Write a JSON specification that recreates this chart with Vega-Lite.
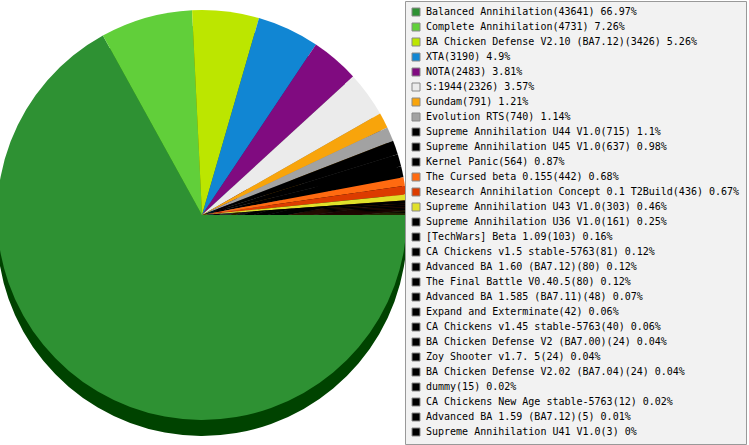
{
  "$schema": "https://vega.github.io/schema/vega-lite/v6.json",
  "width": 404,
  "height": 430,
  "autosize": {"type": "none"},
  "padding": {"left": 0, "top": 0, "right": 345, "bottom": 15},
  "background": "white",
  "config": {"view": {"stroke": null}},
  "data": {"values": [
    {"game": "Balanced Annihilation(43641) 66.97%", "players": 43641},
    {"game": "Complete Annihilation(4731) 7.26%", "players": 4731},
    {"game": "BA Chicken Defense V2.10 (BA7.12)(3426) 5.26%", "players": 3426},
    {"game": "XTA(3190) 4.9%", "players": 3190},
    {"game": "NOTA(2483) 3.81%", "players": 2483},
    {"game": "S:1944(2326) 3.57%", "players": 2326},
    {"game": "Gundam(791) 1.21%", "players": 791},
    {"game": "Evolution RTS(740) 1.14%", "players": 740},
    {"game": "Supreme Annihilation U44 V1.0(715) 1.1%", "players": 715},
    {"game": "Supreme Annihilation U45 V1.0(637) 0.98%", "players": 637},
    {"game": "Kernel Panic(564) 0.87%", "players": 564},
    {"game": "The Cursed beta 0.155(442) 0.68%", "players": 442},
    {"game": "Research Annihilation Concept 0.1 T2Build(436) 0.67%", "players": 436},
    {"game": "Supreme Annihilation U43 V1.0(303) 0.46%", "players": 303},
    {"game": "Supreme Annihilation U36 V1.0(161) 0.25%", "players": 161},
    {"game": "[TechWars] Beta 1.09(103) 0.16%", "players": 103},
    {"game": "CA Chickens v1.5 stable-5763(81) 0.12%", "players": 81},
    {"game": "Advanced BA 1.60 (BA7.12)(80) 0.12%", "players": 80},
    {"game": "The Final Battle V0.40.5(80) 0.12%", "players": 80},
    {"game": "Advanced BA 1.585 (BA7.11)(48) 0.07%", "players": 48},
    {"game": "Expand and Exterminate(42) 0.06%", "players": 42},
    {"game": "CA Chickens v1.45 stable-5763(40) 0.06%", "players": 40},
    {"game": "BA Chicken Defense V2 (BA7.00)(24) 0.04%", "players": 24},
    {"game": "Zoy Shooter v1.7. 5(24) 0.04%", "players": 24},
    {"game": "BA Chicken Defense V2.02 (BA7.04)(24) 0.04%", "players": 24},
    {"game": "dummy(15) 0.02%", "players": 15},
    {"game": "CA Chickens New Age stable-5763(12) 0.02%", "players": 12},
    {"game": "Advanced BA 1.59 (BA7.12)(5) 0.01%", "players": 5},
    {"game": "Supreme Annihilation U41 V1.0(3) 0%", "players": 3}
  ]},
  "layer": [
    {
      "mark": {"type": "arc", "radius": 205, "yOffset": 16},
      "encoding": {
        "theta": {"field": "players", "type": "quantitative", "stack": true, "scale": {"range": [1.5708, 7.854]}},
        "order": {"field": "players", "sort": "descending"},
        "color": {
          "field": "game", "type": "nominal", "legend": null,
          "scale": {
            "domain": [
              "Balanced Annihilation(43641) 66.97%",
              "Complete Annihilation(4731) 7.26%",
              "BA Chicken Defense V2.10 (BA7.12)(3426) 5.26%",
              "XTA(3190) 4.9%",
              "NOTA(2483) 3.81%",
              "S:1944(2326) 3.57%",
              "Gundam(791) 1.21%",
              "Evolution RTS(740) 1.14%",
              "Supreme Annihilation U44 V1.0(715) 1.1%",
              "Supreme Annihilation U45 V1.0(637) 0.98%",
              "Kernel Panic(564) 0.87%",
              "The Cursed beta 0.155(442) 0.68%",
              "Research Annihilation Concept 0.1 T2Build(436) 0.67%",
              "Supreme Annihilation U43 V1.0(303) 0.46%",
              "Supreme Annihilation U36 V1.0(161) 0.25%",
              "[TechWars] Beta 1.09(103) 0.16%",
              "CA Chickens v1.5 stable-5763(81) 0.12%",
              "Advanced BA 1.60 (BA7.12)(80) 0.12%",
              "The Final Battle V0.40.5(80) 0.12%",
              "Advanced BA 1.585 (BA7.11)(48) 0.07%",
              "Expand and Exterminate(42) 0.06%",
              "CA Chickens v1.45 stable-5763(40) 0.06%",
              "BA Chicken Defense V2 (BA7.00)(24) 0.04%",
              "Zoy Shooter v1.7. 5(24) 0.04%",
              "BA Chicken Defense V2.02 (BA7.04)(24) 0.04%",
              "dummy(15) 0.02%",
              "CA Chickens New Age stable-5763(12) 0.02%",
              "Advanced BA 1.59 (BA7.12)(5) 0.01%",
              "Supreme Annihilation U41 V1.0(3) 0%"
            ],
            "range": [
              "#004300", "#1f7a00", "#5a7000", "#004a80", "#3a003a", "#8a8a8a", "#8a5500", "#505050",
              "#000000", "#000000", "#000000", "#8a3000", "#701800", "#7a7a00",
              "#000000", "#000000", "#000000", "#000000", "#000000", "#000000", "#000000", "#000000",
              "#000000", "#000000", "#000000", "#000000", "#000000", "#000000", "#000000"
            ]
          }
        }
      }
    },
    {
      "mark": {"type": "arc", "radius": 205},
      "encoding": {
        "theta": {"field": "players", "type": "quantitative", "stack": true, "scale": {"range": [1.5708, 7.854]}},
        "order": {"field": "players", "sort": "descending"},
        "color": {
          "field": "game", "type": "nominal",
          "scale": {
            "domain": [
              "Balanced Annihilation(43641) 66.97%",
              "Complete Annihilation(4731) 7.26%",
              "BA Chicken Defense V2.10 (BA7.12)(3426) 5.26%",
              "XTA(3190) 4.9%",
              "NOTA(2483) 3.81%",
              "S:1944(2326) 3.57%",
              "Gundam(791) 1.21%",
              "Evolution RTS(740) 1.14%",
              "Supreme Annihilation U44 V1.0(715) 1.1%",
              "Supreme Annihilation U45 V1.0(637) 0.98%",
              "Kernel Panic(564) 0.87%",
              "The Cursed beta 0.155(442) 0.68%",
              "Research Annihilation Concept 0.1 T2Build(436) 0.67%",
              "Supreme Annihilation U43 V1.0(303) 0.46%",
              "Supreme Annihilation U36 V1.0(161) 0.25%",
              "[TechWars] Beta 1.09(103) 0.16%",
              "CA Chickens v1.5 stable-5763(81) 0.12%",
              "Advanced BA 1.60 (BA7.12)(80) 0.12%",
              "The Final Battle V0.40.5(80) 0.12%",
              "Advanced BA 1.585 (BA7.11)(48) 0.07%",
              "Expand and Exterminate(42) 0.06%",
              "CA Chickens v1.45 stable-5763(40) 0.06%",
              "BA Chicken Defense V2 (BA7.00)(24) 0.04%",
              "Zoy Shooter v1.7. 5(24) 0.04%",
              "BA Chicken Defense V2.02 (BA7.04)(24) 0.04%",
              "dummy(15) 0.02%",
              "CA Chickens New Age stable-5763(12) 0.02%",
              "Advanced BA 1.59 (BA7.12)(5) 0.01%",
              "Supreme Annihilation U41 V1.0(3) 0%"
            ],
            "range": [
              "#2e9133", "#61cf3a", "#bce600", "#1186d3", "#800b80", "#ebebeb", "#f8a40b", "#a2a2a2",
              "#000000", "#000000", "#000000", "#ff6a10", "#dc3c00", "#e0e02a",
              "#000000", "#000000", "#000000", "#000000", "#000000", "#000000", "#000000", "#000000",
              "#000000", "#000000", "#000000", "#000000", "#000000", "#000000", "#000000"
            ]
          },
          "legend": {
            "orient": "none",
            "legendX": 405,
            "legendY": 1,
            "title": null,
            "symbolType": "square",
            "symbolSize": 64,
            "symbolStrokeColor": "#888888",
            "symbolStrokeWidth": 1,
            "symbolOpacity": 1,
            "symbolLimit": 50,
            "labelFont": "DejaVu Sans Mono",
            "labelFontSize": 10,
            "labelColor": "#000000",
            "labelLimit": 0,
            "labelOffset": 5,
            "rowPadding": 3,
            "padding": 6,
            "fillColor": "#f2f2f2",
            "strokeColor": "#999999",
            "cornerRadius": 0
          }
        }
      }
    }
  ],
  "resolve": {"scale": {"color": "independent"}}
}
